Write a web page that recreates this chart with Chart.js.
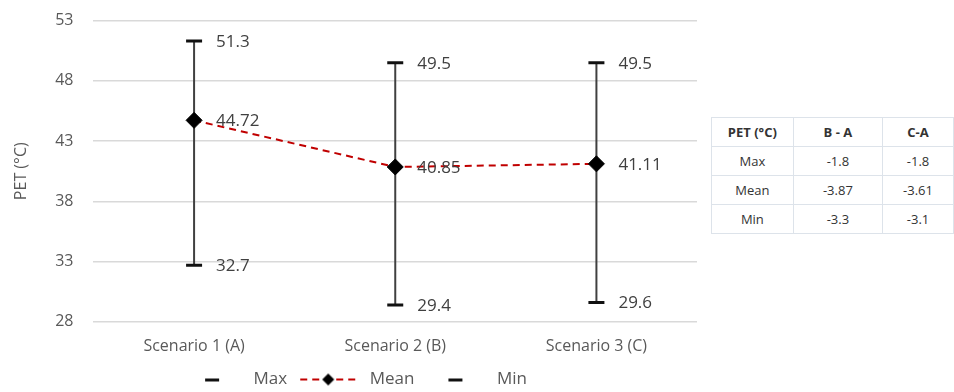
<!DOCTYPE html>
<html>
<head>
<meta charset="utf-8">
<script src="https://cdn.jsdelivr.net/npm/chart.js@4.4.1/dist/chart.umd.min.js"></script>
<style>
  body { margin: 0; background: #fff; font-family: "Open Sans", sans-serif; overflow: hidden; }
  #wrap { position: relative; width: 954px; height: 392px; overflow: hidden; }
  #chartBox { position: absolute; left: 0; top: -9px; width: 708px; height: 407px; }
  table.diff {
    position: absolute; left: 711px; top: 117px; width: 243px;
    border-collapse: collapse; font-size: 13px; color: #333;
  }
  table.diff td, table.diff th {
    border: 1px solid #dde3ea; height: 28px; text-align: center; padding: 0;
  }
  table.diff th { font-weight: bold; }
</style>
</head>
<body>
<div id="wrap">
  <div id="chartBox"><canvas id="chart"></canvas></div>
  <table class="diff" id="diffTable"></table>
</div>
<script>
const scenarios = ['Scenario 1 (A)', 'Scenario 2 (B)', 'Scenario 3 (C)'];
const maxValues = [51.3, 49.5, 49.5];
const meanValues = [44.72, 40.85, 41.11];
const minValues = [32.7, 29.4, 29.6];

const tableHeader = ['PET (°C)', 'B - A', 'C-A'];
const tableRows = [
  ['Max', '-1.8', '-1.8'],
  ['Mean', '-3.87', '-3.61'],
  ['Min', '-3.3', '-3.1']
];

const FONT = '"Open Sans", sans-serif';

// difference table
const tbl = document.getElementById('diffTable');
let html = '<tr>' + tableHeader.map((h, i) =>
  `<th style="width:${i === 0 ? 82 : i === 1 ? 90 : 71}px">${h}</th>`).join('') + '</tr>';
tableRows.forEach(r => { html += '<tr>' + r.map(c => `<td>${c}</td>`).join('') + '</tr>'; });
tbl.innerHTML = html;

// legend icons
function makeIcon(kind) {
  const c = document.createElement('canvas');
  c.width = 66; c.height = 14;
  const g = c.getContext('2d');
  if (kind === 'mean') {
    g.strokeStyle = '#c00000'; g.lineWidth = 2; g.setLineDash([7, 5]);
    g.beginPath(); g.moveTo(5, 7); g.lineTo(61, 7); g.stroke();
    g.fillStyle = '#000';
    g.beginPath(); g.moveTo(33, 1); g.lineTo(39, 7); g.lineTo(33, 13); g.lineTo(27, 7); g.closePath(); g.fill();
  } else {
    g.fillStyle = '#111';
    g.fillRect(26, 6, 14, 3);
  }
  return c;
}
const icons = { Max: makeIcon('dash'), Mean: makeIcon('mean'), Min: makeIcon('dash') };

// vertical high-low lines between min and max
const hiLowPlugin = {
  id: 'hiLow',
  beforeDatasetsDraw(chart) {
    const { ctx, scales: { x, y } } = chart;
    ctx.save();
    ctx.strokeStyle = '#404040';
    ctx.lineWidth = 2;
    scenarios.forEach((s, i) => {
      const px = x.getPixelForValue(i);
      ctx.beginPath();
      ctx.moveTo(px, y.getPixelForValue(maxValues[i]));
      ctx.lineTo(px, y.getPixelForValue(minValues[i]));
      ctx.stroke();
    });
    ctx.restore();
  }
};

// value labels to the right of each point
const labelPlugin = {
  id: 'valueLabels',
  afterDatasetsDraw(chart) {
    const { ctx } = chart;
    ctx.save();
    ctx.font = '17px ' + FONT;
    ctx.fillStyle = '#404040';
    ctx.textBaseline = 'middle';
    chart.data.datasets.forEach((ds, di) => {
      const meta = chart.getDatasetMeta(di);
      meta.data.forEach((pt, i) => {
        ctx.fillText(String(ds.data[i]), pt.x + 22, pt.y + 1);
      });
    });
    ctx.restore();
  }
};

new Chart(document.getElementById('chart'), {
  type: 'line',
  data: {
    labels: scenarios,
    datasets: [
      {
        label: 'Max',
        data: maxValues,
        showLine: false,
        pointStyle: 'line',
        pointRadius: 8,
        pointBorderWidth: 3,
        borderColor: '#111',
        backgroundColor: '#111'
      },
      {
        label: 'Mean',
        data: meanValues,
        borderColor: '#c00000',
        borderWidth: 2,
        borderDash: [7, 5],
        pointStyle: 'rectRot',
        pointRadius: 8,
        pointBackgroundColor: '#000',
        pointBorderColor: '#000',
        pointBorderWidth: 1
      },
      {
        label: 'Min',
        data: minValues,
        showLine: false,
        pointStyle: 'line',
        pointRadius: 8,
        pointBorderWidth: 3,
        borderColor: '#111',
        backgroundColor: '#111'
      }
    ]
  },
  options: {
    responsive: true,
    maintainAspectRatio: false,
    animation: false,
    layout: { padding: { top: 8, right: 10, left: 8, bottom: 0 } },
    plugins: {
      tooltip: { enabled: false },
      legend: {
        position: 'bottom',
        labels: {
          usePointStyle: true,
          pointStyleWidth: 66,
          boxHeight: 14,
          color: '#595959',
          font: { size: 17, family: FONT },
          padding: 8,
          generateLabels(chart) {
            return chart.data.datasets.map((ds, i) => ({
              text: ds.label,
              pointStyle: icons[ds.label],
              datasetIndex: i,
              fontColor: '#595959',
              lineWidth: 0,
              strokeStyle: 'transparent',
              fillStyle: 'transparent'
            }));
          }
        }
      }
    },
    scales: {
      x: {
        offset: true,
        grid: { display: false },
        border: { display: false },
        ticks: { color: '#595959', font: { size: 16, family: FONT }, padding: 7 }
      },
      y: {
        min: 28,
        max: 53,
        ticks: { stepSize: 5, color: '#595959', font: { size: 16, family: FONT }, padding: 20 },
        grid: { color: '#d9d9d9', lineWidth: 1.5, drawTicks: false },
        border: { display: false },
        title: { display: true, text: 'PET (°C)', color: '#595959', font: { size: 16, family: FONT } }
      }
    }
  },
  plugins: [hiLowPlugin, labelPlugin]
});
</script>
</body>
</html>
